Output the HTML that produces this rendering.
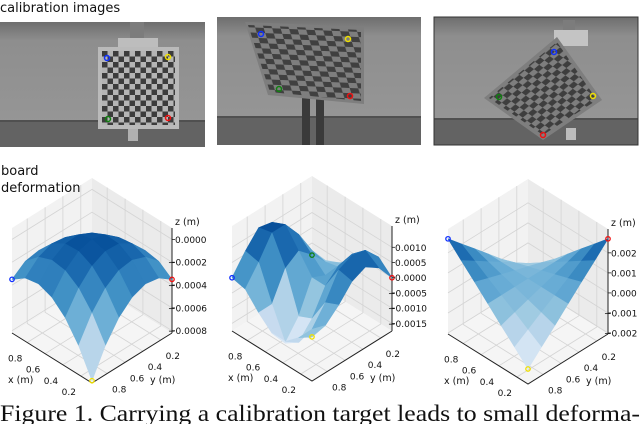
<!DOCTYPE html>
<html><head><meta charset="utf-8">
<style>
html,body{margin:0;padding:0;background:#fff;}
svg{display:block;}
text{font-family:"DejaVu Sans","Liberation Sans",sans-serif;}
</style></head>
<body>
<svg id="fig" width="640" height="424" viewBox="0 0 640 424" xmlns="http://www.w3.org/2000/svg">
<defs>
  <linearGradient id="wall" x1="0" y1="0" x2="0" y2="1">
    <stop offset="0" stop-color="#6e6e6e"/><stop offset="0.15" stop-color="#8e8e8e"/><stop offset="1" stop-color="#989898"/>
  </linearGradient>
  <pattern id="chk1" width="11" height="11" patternUnits="userSpaceOnUse" patternTransform="translate(102,51)">
    <rect width="11" height="11" fill="#b4b4b4"/><rect width="5.5" height="5.5" fill="#3c3c3c"/><rect x="5.5" y="5.5" width="5.5" height="5.5" fill="#3c3c3c"/>
  </pattern>
  <pattern id="chk2" width="2" height="2" patternUnits="userSpaceOnUse" patternTransform="matrix(8.5,0.36,1.64,5.2,245,22)">
    <rect width="2" height="2" fill="#7e7e7e"/><rect width="1" height="1" fill="#404040"/><rect x="1" y="1" width="1" height="1" fill="#404040"/>
  </pattern>
  <pattern id="chk3" width="2" height="2" patternUnits="userSpaceOnUse" patternTransform="matrix(5.2,-4.36,4.2,3.0,484,98)">
    <rect width="2" height="2" fill="#7e7e7e"/><rect width="1" height="1" fill="#3e3e3e"/><rect x="1" y="1" width="1" height="1" fill="#3e3e3e"/>
  </pattern>
</defs>
<text x="0" y="12" font-size="13" fill="#111">calibration images</text>

<g>
  <rect x="0" y="22" width="205" height="125" fill="url(#wall)"/>
  <rect x="0" y="121" width="205" height="26" fill="#636363"/>
  <rect x="0" y="120" width="205" height="2" fill="#505050"/>
  <rect x="130" y="22" width="14" height="20" fill="#7c7c7c"/>
  <rect x="118" y="38" width="40" height="12" fill="#bdbdbd"/>
  <rect x="128" y="129" width="10" height="12" fill="#b0b0b0"/>
  <rect x="98" y="47" width="81" height="82" fill="#bababa"/>
  <rect x="102" y="51" width="73" height="74" fill="url(#chk1)"/>
  <circle cx="107" cy="58" r="2.5" fill="none" stroke="#1030ff" stroke-width="1.5"/>
  <circle cx="168" cy="57" r="2.5" fill="none" stroke="#f0e000" stroke-width="1.5"/>
  <circle cx="108" cy="119" r="2.5" fill="none" stroke="#108010" stroke-width="1.5"/>
  <circle cx="168" cy="118" r="2.5" fill="none" stroke="#f01010" stroke-width="1.5"/>
</g>
<g>
  <rect x="217" y="17" width="204" height="128" fill="url(#wall)"/>
  <rect x="217" y="117" width="204" height="28" fill="#636363"/>
  <rect x="217" y="116" width="204" height="2" fill="#505050"/>
  <rect x="302" y="95" width="8" height="50" fill="#3a3a3a"/>
  <rect x="316" y="95" width="8" height="50" fill="#3a3a3a"/>
  <polygon points="245,22 364,27 364,104 268,95" fill="#7e7e7e"/>
  <polygon points="248,25 361,30 361,101 270,92" fill="url(#chk2)"/>
  <circle cx="261" cy="34" r="2.5" fill="none" stroke="#1030ff" stroke-width="1.5"/>
  <circle cx="348" cy="39" r="2.5" fill="none" stroke="#f0e000" stroke-width="1.5"/>
  <circle cx="279" cy="89" r="2.5" fill="none" stroke="#108010" stroke-width="1.5"/>
  <circle cx="350" cy="96" r="2.5" fill="none" stroke="#f01010" stroke-width="1.5"/>
</g>
<g>
  <rect x="434" y="17" width="204" height="128" fill="url(#wall)"/>
  <rect x="434" y="119" width="204" height="26" fill="#636363"/>
  <rect x="434" y="118" width="204" height="2" fill="#505050"/>
  <rect x="563" y="20" width="12" height="14" fill="#7c7c7c"/>
  <rect x="554" y="30" width="34" height="16" fill="#c4c4c4"/>
  <rect x="566" y="128" width="10" height="12" fill="#bcbcbc"/>
  <polygon points="557,37 602,100 543,140 484,98" fill="#7e7e7e"/>
  <polygon points="557,42 597,100 543,135 489,98" fill="url(#chk3)"/>
  <rect x="434" y="17" width="204" height="128" fill="none" stroke="#333" stroke-width="1"/>
  <circle cx="554" cy="52" r="2.5" fill="none" stroke="#1030ff" stroke-width="1.5"/>
  <circle cx="593" cy="96" r="2.5" fill="none" stroke="#f0e000" stroke-width="1.5"/>
  <circle cx="499" cy="97" r="2.5" fill="none" stroke="#108010" stroke-width="1.5"/>
  <circle cx="543" cy="135" r="2.5" fill="none" stroke="#f01010" stroke-width="1.5"/>
</g>

<g id="plots"></g>

<text x="1" y="175" font-size="13" fill="#111">board</text>
<text x="1" y="192" font-size="13" fill="#111">deformation</text>

<text x="0" y="421" font-size="23" textLength="640" lengthAdjust="spacingAndGlyphs" style="font-family:'Liberation Serif',serif" fill="#111">Figure 1. Carrying a calibration target leads to small deforma-</text>
</svg>
<script>
// grid coordinates (fractions of the board along x and y)
const gridX = [0, 1/6, 2/6, 3/6, 4/6, 5/6, 1];
const gridY = [0, 1/6, 2/6, 3/6, 4/6, 5/6, 1];
// surface heights in units of 1e-4 m, rows = x index, cols = y index
const surface1 = [
  [-3.5, -2.65, -2.44, -2.88, -3.94, -5.65, -8.0],
  [-2.65, -1.56, -1.10, -1.28, -2.10, -3.56, -5.65],
  [-2.44, -1.10, -0.39, -0.32, -0.89, -2.10, -3.94],
  [-2.88, -1.28, -0.32, 0, -0.32, -1.28, -2.88],
  [-3.94, -2.10, -0.89, -0.32, -0.39, -1.10, -2.44],
  [-5.65, -3.56, -2.10, -1.28, -1.10, -1.56, -2.65],
  [-8.0, -5.65, -3.94, -2.88, -2.44, -2.65, -3.5]
];
const surface2 = [
  [0, 6, 9, 7, 2, -2, -3],
  [4, 9, 10, 8, 0, -6, -6],
  [2, 5, 4, 0, -8, -13, -10],
  [-3, -2, -2, 0, -10, -16, -10],
  [-6, -3, 2, 6, 3, -6, -6],
  [-8, -2, 6, 12, 12, 5, -1],
  [-9, -3, 4, 10, 11, 6, 0]
];
const surface3 = [
  [27, 20.3, 13.7, 7, 0.3, -6.3, -13],
  [20.3, 15.9, 11.4, 7, 2.6, -1.9, -6.3],
  [13.7, 11.4, 9.2, 7, 4.8, 2.6, 0.3],
  [7, 7, 7, 7, 7, 7, 7],
  [0.3, 2.6, 4.8, 7, 9.2, 11.4, 13.7],
  [-6.3, -1.9, 2.6, 7, 11.4, 15.9, 20.3],
  [-13, -6.3, 0.3, 7, 13.7, 20.3, 27]
];
const zTicks1 = [0, -2, -4, -6, -8];
const zTickLabels1 = ["0.0000", "\u22120.0002", "\u22120.0004", "\u22120.0006", "\u22120.0008"];
const zTicks2 = [10, 5, 0, -5, -10, -15];
const zTickLabels2 = ["0.0010", "0.0005", "0.0000", "\u22120.0005", "\u22120.0010", "\u22120.0015"];
const zTicks3 = [20, 10, 0, -10, -20];
const zTickLabels3 = ["0.002", "0.001", "0.000", "\u22120.001", "\u22120.002"];
const xyTicks = [0.2, 0.4, 0.6, 0.8];
const xyTickLabels = ["0.2", "0.4", "0.6", "0.8"];

const NS = "http://www.w3.org/2000/svg";
const root = document.getElementById("plots");
function mk(tag, attrs, parent) {
  const e = document.createElementNS(NS, tag);
  for (const k in attrs) e.setAttribute(k, attrs[k]);
  parent.appendChild(e);
  return e;
}
const stops = [[247,251,255],[222,235,247],[198,219,239],[158,202,225],[107,174,214],[66,146,198],[33,113,181],[8,81,156],[8,48,107]];
function blues(t) {
  t = Math.max(0, Math.min(1, t)) * (stops.length - 1);
  const i = Math.min(stops.length - 2, Math.floor(t)), f = t - i;
  const c = stops[i].map((v, k) => Math.round(v + (stops[i + 1][k] - v) * f));
  return "rgb(" + c.join(",") + ")";
}
const XMIN = 0.075, XMAX = 0.97;
function drawPlot(cfg) {
  const g = mk("g", {}, root);
  
  
  const F = cfg.front, H = 80, S = 50, Z = 105;
  const wOf = z => (z - cfg.zmin) / (cfg.zmax - cfg.zmin);
  const P = (u, v, w) => [F[0] - H * u + H * (1 - v), F[1] - S * u - S * (1 - v) - Z * w];
  const pt = p => p[0].toFixed(1) + "," + p[1].toFixed(1);
  const L0 = P(1, 1, 0), B0 = P(1, 0, 0), R0 = P(0, 0, 0), F0 = P(0, 1, 0);
  const L1 = P(1, 1, 1), B1 = P(1, 0, 1), R1 = P(0, 0, 1);
  const p1 = mk("polygon", {points: [L0, B0, B1, L1].map(pt).join(" "), fill: "#f2f2f2"}, g);
  
  
  const p2 = mk("polygon", {points: [B0, R0, R1, B1].map(pt).join(" "), fill: "#ebebeb"}, g);
  
  
  const p3 = mk("polygon", {points: [F0, L0, B0, R0].map(pt).join(" "), fill: "#f5f5f5"}, g);
  
  
  const gl = {stroke: "#d4d4d4", "stroke-width": 0.8, fill: "none"};
  xyTicks.forEach(t => {
    const f = (t - XMIN) / (XMAX - XMIN);
    let l = mk("polyline", Object.assign({points: [P(f, 1, 0), P(f, 0, 0), P(f, 0, 1)].map(pt).join(" ")}, gl), g);
    
    
    l = mk("polyline", Object.assign({points: [P(0, f, 0), P(1, f, 0), P(1, f, 1)].map(pt).join(" ")}, gl), g);
    
    
  });
  cfg.zticks.forEach(z => {
    const w = wOf(z);
    const l = mk("polyline", Object.assign({points: [P(1, 1, w), P(1, 0, w), P(0, 0, w)].map(pt).join(" ")}, gl), g);
    
    
  });
  const ax = mk("polyline", {points: [L0, F0, R0].map(pt).join(" "), stroke: "#222", "stroke-width": 1, fill: "none"}, g);
  
  
  const za = mk("line", {x1: R0[0], y1: R0[1], x2: R1[0], y2: R1[1], stroke: "#222", "stroke-width": 1}, g);
  
  
  const Z2 = cfg.surf;
  let zlo = Infinity, zhi = -Infinity;
  Z2.forEach(r => r.forEach(v => { zlo = Math.min(zlo, v); zhi = Math.max(zhi, v); }));
  const quads = [];
  for (let i = 0; i < gridX.length - 1; i++) for (let j = 0; j < gridY.length - 1; j++) {
    const zs = [Z2[i][j], Z2[i + 1][j], Z2[i + 1][j + 1], Z2[i][j + 1]];
    const pts = [P(gridX[i], gridY[j], wOf(zs[0])), P(gridX[i + 1], gridY[j], wOf(zs[1])),
                 P(gridX[i + 1], gridY[j + 1], wOf(zs[2])), P(gridX[i], gridY[j + 1], wOf(zs[3]))];
    const avg = (zs[0] + zs[1] + zs[2] + zs[3]) / 4;
    const depth = (gridX[i] + gridX[i + 1]) / 2 + 1 - (gridY[j] + gridY[j + 1]) / 2;
    quads.push({pts, avg, depth});
  }
  quads.sort((a, b) => b.depth - a.depth);
  quads.forEach(q => {
    const c = blues(0.05 + 0.85 * (q.avg - zlo) / (zhi - zlo));
    const e = mk("polygon", {points: q.pts.map(pt).join(" "), fill: c, stroke: c, "stroke-width": 0.6, "stroke-linejoin": "round"}, g);
    
    
  });
  const last = gridX.length - 1;
  const marks = [[last, last, "#1030ff", "marker-blue"], [0, 0, "#f01010", "marker-red"], [0, last, "#f0e000", "marker-yellow"]];
  if (cfg.green) marks.push([last, 0, "#108010", "marker-green"]);
  marks.forEach(m => {
    const p = P(gridX[m[0]], gridY[m[1]], wOf(Z2[m[0]][m[1]]));
    const c = mk("circle", {cx: p[0], cy: p[1], r: 2.2, fill: "none", stroke: m[2], "stroke-width": 1.3}, g);
    
    
  });
  xyTicks.forEach((t, k) => {
    const f = (t - XMIN) / (XMAX - XMIN);
    const px = P(f, 1, 0);
    let tx = mk("text", {x: px[0] - 12, y: px[1] + 19, "font-size": 9, "text-anchor": "middle", fill: "#111"}, g);
    tx.textContent = xyTickLabels[k];
    
    
    const py = P(0, f, 0);
    tx = mk("text", {x: py[0] + 12, y: py[1] + 19, "font-size": 9, "text-anchor": "middle", fill: "#111"}, g);
    tx.textContent = xyTickLabels[k];
    
    
  });
  cfg.zticks.forEach((z, k) => {
    const p = P(0, 0, wOf(z));
    const tk = mk("line", {x1: p[0], y1: p[1], x2: p[0] + 3, y2: p[1], stroke: "#222", "stroke-width": 0.8}, g);
    
    
    const neg = cfg.zlabels[k].charAt(0) === "\u2212";
    const tx = mk("text", {x: p[0] + 3 - (neg ? 7 : 0), y: p[1] + 3.5, "font-size": 9, fill: "#111"}, g);
    tx.textContent = cfg.zlabels[k];
    
    
  });
  let t = mk("text", {x: F[0] - 84, y: F[1] + 0, "font-size": 9.5, fill: "#111"}, g);
  t.textContent = "x (m)";
  
  
  t = mk("text", {x: F[0] + 58, y: F[1] + 0, "font-size": 9.5, fill: "#111"}, g);
  t.textContent = "y (m)";
  
  
  t = mk("text", {x: R1[0] + 3, y: R1[1] - 3, "font-size": 9.5, fill: "#111"}, g);
  t.textContent = "z (m)";
  
  
}
drawPlot({name: "deformation-plot-1", front: [92, 383], zmin: -8.2, zmax: 1.0, surf: surface1, zticks: zTicks1, zlabels: zTickLabels1, green: false});
drawPlot({name: "deformation-plot-2", front: [312, 381], zmin: -17.5, zmax: 17, surf: surface2, zticks: zTicks2, zlabels: zTickLabels2, green: true});
drawPlot({name: "deformation-plot-3", front: [528, 384], zmin: -20.5, zmax: 31.9, surf: surface3, zticks: zTicks3, zlabels: zTickLabels3, green: false});
</script>
</body></html>
